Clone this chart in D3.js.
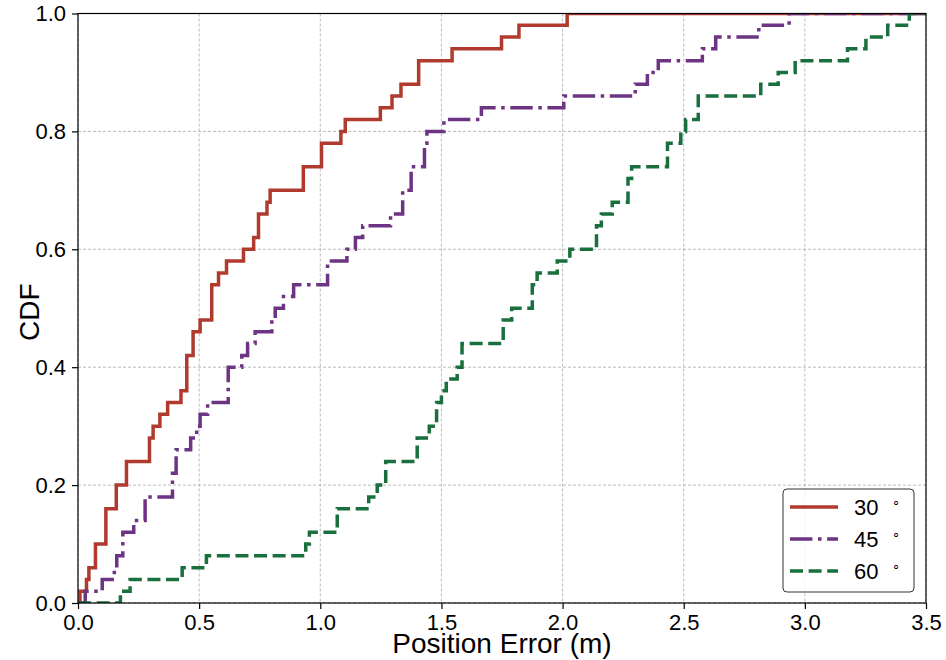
<!DOCTYPE html>
<html>
<head>
<meta charset="utf-8">
<script src="https://cdn.jsdelivr.net/npm/d3@7"></script>
<style>
  body { margin: 0; background: #fff; }
  svg { display: block; font-family: "Liberation Sans", Arial, sans-serif; }
</style>
</head>
<body>
<div id="chart"></div>
<script>
// step points: x = position error (m), y = CDF after the jump
const x30 = [0, 0.008, 0.035, 0.045, 0.072, 0.115, 0.158, 0.2, 0.295, 0.31, 0.338, 0.37, 0.425, 0.449, 0.475, 0.504, 0.552, 0.58, 0.613, 0.683, 0.725, 0.745, 0.78, 0.793, 0.93, 1.005, 1.085, 1.103, 1.248, 1.296, 1.333, 1.406, 1.544, 1.748, 1.82, 2.019, 3.5];
const y30 = [0, 0.02, 0.04, 0.06, 0.10, 0.16, 0.20, 0.24, 0.28, 0.30, 0.32, 0.34, 0.36, 0.42, 0.46, 0.48, 0.54, 0.56, 0.58, 0.60, 0.62, 0.66, 0.68, 0.70, 0.74, 0.78, 0.80, 0.82, 0.84, 0.86, 0.88, 0.92, 0.94, 0.96, 0.98, 1.0, 1.0];

const x45 = [0, 0.03, 0.10, 0.15, 0.16, 0.185, 0.23, 0.277, 0.39, 0.405, 0.465, 0.49, 0.504, 0.535, 0.62, 0.676, 0.70, 0.731, 0.80, 0.814, 0.848, 0.89, 1.03, 1.11, 1.145, 1.175, 1.29, 1.34, 1.375, 1.43, 1.44, 1.51, 1.665, 2.005, 2.30, 2.35, 2.395, 2.577, 2.632, 2.81, 2.935, 3.5];
const y45 = [0, 0.02, 0.04, 0.06, 0.08, 0.12, 0.14, 0.18, 0.22, 0.26, 0.28, 0.30, 0.32, 0.34, 0.40, 0.42, 0.44, 0.46, 0.48, 0.50, 0.52, 0.54, 0.58, 0.60, 0.62, 0.64, 0.66, 0.70, 0.74, 0.78, 0.80, 0.82, 0.84, 0.86, 0.88, 0.90, 0.92, 0.94, 0.96, 0.98, 1.0, 1.0];

const x60 = [0, 0.175, 0.215, 0.43, 0.53, 0.94, 0.955, 1.07, 1.20, 1.235, 1.27, 1.40, 1.45, 1.48, 1.50, 1.52, 1.565, 1.585, 1.755, 1.79, 1.875, 1.895, 1.978, 2.03, 2.14, 2.16, 2.205, 2.27, 2.285, 2.433, 2.488, 2.508, 2.56, 2.818, 2.89, 2.96, 3.176, 3.252, 3.342, 3.431, 3.5];
const y60 = [0, 0.02, 0.04, 0.06, 0.08, 0.10, 0.12, 0.16, 0.18, 0.20, 0.24, 0.28, 0.30, 0.34, 0.36, 0.38, 0.40, 0.44, 0.48, 0.50, 0.54, 0.56, 0.58, 0.60, 0.64, 0.66, 0.68, 0.72, 0.74, 0.78, 0.80, 0.82, 0.86, 0.88, 0.90, 0.92, 0.94, 0.96, 0.98, 1.0, 1.0];

const seriesNames = ["30", "45", "60"];
const xTicks = [0, 0.5, 1.0, 1.5, 2.0, 2.5, 3.0, 3.5];
const yTicks = [0, 0.2, 0.4, 0.6, 0.8, 1.0];

const width = 946, height = 660;
const margin = { top: 13.5, right: 20, bottom: 57, left: 78 };
const innerW = width - margin.left - margin.right;
const innerH = height - margin.top - margin.bottom;

const svg = d3.select("#chart").append("svg")
    .attr("width", width)
    .attr("height", height);

const g = svg.append("g")
    .attr("transform", `translate(${margin.left},${margin.top})`);

const x = d3.scaleLinear().domain([0, 3.5]).range([0, innerW]);
const y = d3.scaleLinear().domain([0, 1]).range([innerH, 0]);

// grid
g.append("g").selectAll("line").data(xTicks).enter().append("line")
    .attr("x1", d => x(d)).attr("x2", d => x(d))
    .attr("y1", 0).attr("y2", innerH)
    .attr("stroke", "#aaaaaa").attr("stroke-width", 0.8)
    .attr("stroke-dasharray", "3,2");
g.append("g").selectAll("line").data(yTicks).enter().append("line")
    .attr("x1", 0).attr("x2", innerW)
    .attr("y1", d => y(d)).attr("y2", d => y(d))
    .attr("stroke", "#aaaaaa").attr("stroke-width", 0.8)
    .attr("stroke-dasharray", "3,2");

// clip to axes
svg.append("defs").append("clipPath").attr("id", "plot-clip")
    .append("rect").attr("width", innerW).attr("height", innerH);

const series = [
    { name: seriesNames[0], xs: x30, ys: y30, color: "#b03a2e", dash: null },
    { name: seriesNames[1], xs: x45, ys: y45, color: "#6c3483", dash: "22.4,5.6,3.5,5.6" },
    { name: seriesNames[2], xs: x60, ys: y60, color: "#196f3d", dash: "13,5.6" }
];

const line = d3.line()
    .x(d => x(d[0]))
    .y(d => y(d[1]))
    .curve(d3.curveStepAfter);

const lines = g.append("g").attr("clip-path", "url(#plot-clip)");
series.forEach(s => {
    lines.append("path")
        .datum(s.xs.map((v, i) => [v, s.ys[i]]))
        .attr("fill", "none")
        .attr("stroke", s.color)
        .attr("stroke-width", 3.5)
        .attr("stroke-dasharray", s.dash)
        .attr("d", line);
});

// axes
const xAxis = g.append("g")
    .attr("transform", `translate(0,${innerH})`)
    .call(d3.axisBottom(x).tickValues(xTicks).tickFormat(d3.format(".1f")).tickSize(6).tickPadding(5));
const yAxis = g.append("g")
    .call(d3.axisLeft(y).tickValues(yTicks).tickFormat(d3.format(".1f")).tickSize(6).tickPadding(6));

[xAxis, yAxis].forEach(a => {
    a.select(".domain").remove();
    a.selectAll(".tick line").attr("stroke", "#000").attr("stroke-width", 1.2);
    a.selectAll(".tick text").attr("fill", "#000")
        .style("font-size", "22px")
        .style("font-family", "'Liberation Sans', Arial, sans-serif");
});

// frame
g.append("rect")
    .attr("width", innerW).attr("height", innerH)
    .attr("fill", "none").attr("stroke", "#000").attr("stroke-width", 1.2);

// axis labels
svg.append("text")
    .attr("x", margin.left + innerW / 2)
    .attr("y", 653)
    .attr("text-anchor", "middle")
    .style("font-size", "28px")
    .text("Position Error (m)");

svg.append("text")
    .attr("transform", `translate(39,${margin.top + innerH / 2 + 4}) rotate(-90)`)
    .attr("text-anchor", "middle")
    .style("font-size", "28px")
    .text("CDF");

// legend
const legend = svg.append("g").attr("transform", "translate(783,489)");
legend.append("rect")
    .attr("width", 131).attr("height", 103)
    .attr("rx", 4)
    .attr("fill", "#fff").attr("fill-opacity", 0.8)
    .attr("stroke", "#333").attr("stroke-width", 1);

series.forEach((s, i) => {
    const ly = 18 + i * 32;
    legend.append("line")
        .attr("x1", 7).attr("x2", 55)
        .attr("y1", ly).attr("y2", ly)
        .attr("stroke", s.color)
        .attr("stroke-width", 3.5)
        .attr("stroke-dasharray", s.dash);
    legend.append("text")
        .attr("x", 71).attr("y", ly + 8)
        .style("font-size", "22px")
        .text(s.name);
    legend.append("text")
        .attr("x", 109).attr("y", ly - 1)
        .style("font-size", "13px")
        .text("\u2218");
});
</script>
</body>
</html>
